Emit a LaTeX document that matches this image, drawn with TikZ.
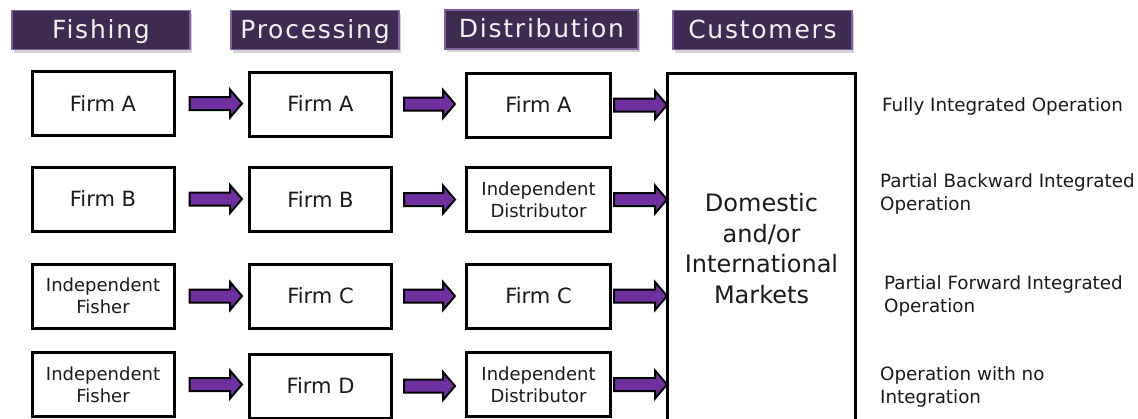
\documentclass[tikz,border=0pt]{standalone}
\usepackage{fontspec}
\setmainfont{DejaVu Sans}
\newfontfamily\headfont[LetterSpace=7]{DejaVu Sans}
\usetikzlibrary{calc,shadows}
\definecolor{headfill}{HTML}{3F2B52}
\definecolor{headedge}{HTML}{7E62A0}
\definecolor{flow}{HTML}{7030A0}
\definecolor{ink}{HTML}{1A1A1A}

\tikzset{
  header/.style={fill=headfill, draw=headedge, line width=1.2pt, text=white!95!black,
    font=\headfont\fontsize{25}{28}\selectfont, inner sep=0pt, minimum height=39pt,
    text height=20pt, text depth=4pt,
    drop shadow={opacity=0.35, shadow xshift=2pt, shadow yshift=-3pt}},
  firmbox/.style={draw=black, line width=3pt, fill=white, minimum width=142pt,
    minimum height=64pt, inner sep=0pt, align=center, text=ink,
    font=\fontsize{21}{25}\selectfont},
  smallbox/.style={firmbox, font=\fontsize{18}{22}\selectfont},
  blockarrow/.style={draw=black, fill=flow, line width=2pt, line join=miter,
    to path={let \p1=(\tikztostart), \p2=(\tikztotarget) in
      (\x1,\y1+6.5pt) -- (\x2-12pt,\y1+6.5pt) -- (\x2-12pt,\y1+14pt) -- (\x2,\y1)
      -- (\x2-12pt,\y1-14pt) -- (\x2-12pt,\y1-6.5pt) -- (\x1,\y1-6.5pt) -- cycle}},
  note/.style={anchor=west, align=left, inner sep=0pt, text=ink,
    font=\fontsize{18.3}{22.5}\selectfont}
}

\begin{document}
\begin{tikzpicture}[x=1pt,y=-1pt]
\useasboundingbox (0,0) rectangle (1138,418);
\clip (0,0) rectangle (1138,418);

% stage headers
\node[header, minimum width=178pt] (hfish) at (101,30) {Fishing};
\node[header, minimum width=168pt] (hproc) at (315,30) {Processing};
\node[header, minimum width=193pt] (hdist) at (541.5,29.5) {Distribution};
\node[header, minimum width=179pt] (hcust) at (762.5,30) {Customers};

% fishing column
\node[firmbox]  (f1) at (103,103.5) {Firm A};
\node[firmbox]  (f2) at (103,199)   {Firm B};
\node[smallbox] (f3) at (103,296)   {Independent\\Fisher};
\node[smallbox] (f4) at (103,384.5) {Independent\\Fisher};

% processing column
\node[firmbox] (p1) at (320.5,104)   {Firm A};
\node[firmbox] (p2) at (320.5,199.5) {Firm B};
\node[firmbox] (p3) at (320.5,296)   {Firm C};
\node[firmbox] (p4) at (320.5,386)   {Firm D};

% distribution column
\node[firmbox, minimum width=144pt]  (d1) at (538.5,105)   {Firm A};
\node[smallbox, minimum width=144pt] (d2) at (538.5,199.5) {Independent\\Distributor};
\node[firmbox, minimum width=144pt]  (d3) at (538.5,296)   {Firm C};
\node[smallbox, minimum width=144pt] (d4) at (538.5,384.5) {Independent\\Distributor};

% markets
\node[draw=black, line width=3pt, minimum width=188pt, minimum height=350pt,
      inner sep=0pt, align=center, text=ink, font=\fontsize{24}{30.5}\selectfont]
      (market) at (761.5,248.5) {Domestic\\and/or\\International\\Markets};

% flows between stages
\foreach \r in {1,...,4} {
  \draw[blockarrow] ([xshift=14pt]f\r.east) to ([xshift=-6pt]p\r.west);
  \draw[blockarrow] ([xshift=11pt]p\r.east) to ([xshift=-10pt]d\r.west);
  \draw[blockarrow] ([xshift=2pt]d\r.east) to ($(d\r.east -| market.west)+(1pt,0pt)$);
}

% integration types
\node[note] (n1) at (882,106) {Fully Integrated Operation};
\node[note] (n2) at (880,194) {Partial Backward Integrated\\Operation};
\node[note] (n3) at (884,296) {Partial Forward Integrated\\Operation};
\node[note] (n4) at (880,387) {Operation with no\\Integration};
\end{tikzpicture}
\end{document}
